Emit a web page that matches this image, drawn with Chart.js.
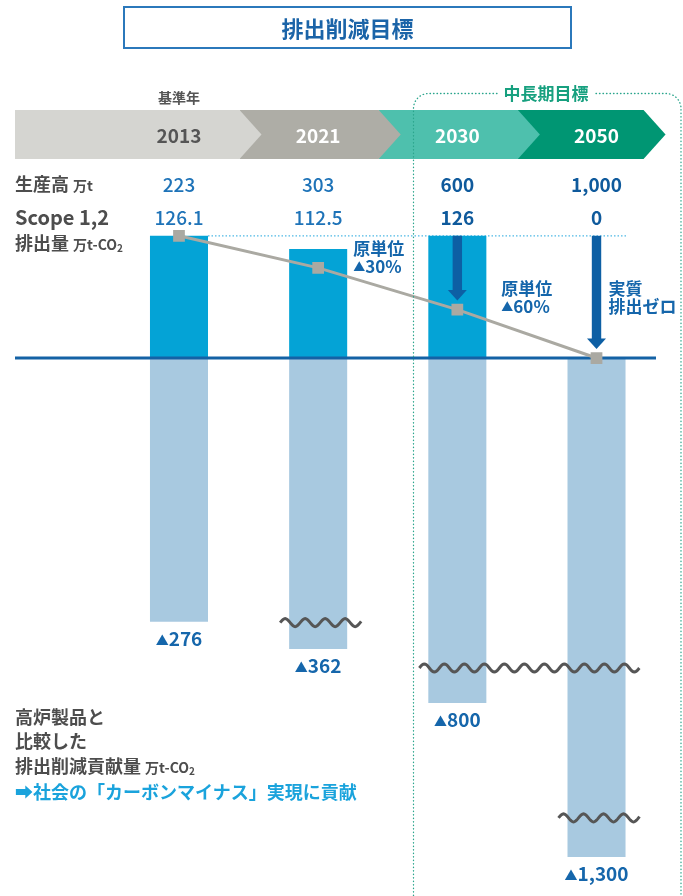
<!DOCTYPE html>
<html lang="ja">
<head>
<meta charset="utf-8">
<title>排出削減目標</title>
<script src="https://cdn.jsdelivr.net/npm/chart.js@4.4.1/dist/chart.umd.min.js"></script>
<style>
  body { margin: 0; background: #fff; font-family: "Noto Sans CJK JP", "Noto Sans", sans-serif; }
  #wrap { position: relative; width: 683px; height: 896px; overflow: hidden; }
  #chart { position: absolute; left: 0; top: 0; }
  .lbl { position: absolute; white-space: nowrap; color: #4d4d4d; font-weight: 700; line-height: 1.2; transform: translateY(-50%); }
  .unit { font-size: 14px; }
  .unit sub { font-size: 10px; vertical-align: -2px; }
  #title { position: absolute; left: 123px; top: 6px; width: 449px; height: 43px; box-sizing: border-box;
           border: 2px solid #2b78bb; color: #1b64a8; font-size: 22px; font-weight: 700;
           text-align: center; line-height: 39px; }
</style>
</head>
<body>
<div id="wrap">
  <canvas id="chart" width="683" height="896"></canvas>
  <div id="title">排出削減目標</div>
  <div class="lbl" style="left:15px;top:184px;font-size:18px">生産高 <span class="unit">万t</span></div>
  <div class="lbl" style="left:15px;top:217px;font-size:20px">Scope 1,2</div>
  <div class="lbl" style="left:15px;top:243px;font-size:18px">排出量 <span class="unit">万t-CO<sub>2</sub></span></div>
  <div class="lbl" style="left:15px;top:717px;font-size:18px">高炉製品と</div>
  <div class="lbl" style="left:15px;top:741px;font-size:18px">比較した</div>
  <div class="lbl" style="left:15px;top:766px;font-size:18px">排出削減貢献量 <span class="unit">万t-CO<sub>2</sub></span></div>
  <div class="lbl" style="left:15px;top:792px;font-size:18px;color:#1aa3dc">➡社会の「カーボンマイナス」実現に貢献</div>
</div>
<script>
// データ
const years = ['2013', '2021', '2030', '2050'];
const productionLabels = ['223', '303', '600', '1,000'];
const emissions = [126.1, 112.5, 126, 0];
const emissionLabels = ['126.1', '112.5', '126', '0'];
const contribution = [-276, -362, -800, -1300];
const contributionLabels = ['276', '362', '800', '1,300'];
const intensity = [126.1, 93, 50, 0];
const notes = [[], ['原単位', '▲30%'], ['原単位', '▲60%'], ['実質', '排出ゼロ']];

const JP = '"Noto Sans CJK JP", "Noto Sans", sans-serif';

// 縦軸は途中を省略した区分線形スケール (値 -> 0..1)
const yKnots = [[-1400, 0], [-1300, 0.0338], [-800, 0.2603], [-400, 0.3235], [-280, 0.3743], [0, 0.7676], [163, 1]];

class BrokenScale extends Chart.LinearScale {
  getPixelForValue(value) {
    if (value === null || isNaN(value)) return NaN;
    let k = yKnots;
    let i = 1;
    while (i < k.length - 1 && value > k[i][0]) i++;
    const a = k[i - 1], b = k[i];
    const dec = a[1] + (value - a[0]) / (b[0] - a[0]) * (b[1] - a[1]);
    return this.getPixelForDecimal(dec);
  }
  getValueForPixel(pixel) {
    const dec = this.getDecimalForPixel(pixel);
    let k = yKnots;
    let i = 1;
    while (i < k.length - 1 && dec > k[i][1]) i++;
    const a = k[i - 1], b = k[i];
    return a[0] + (dec - a[1]) / (b[1] - a[1]) * (b[0] - a[0]);
  }
}
BrokenScale.id = 'broken';
BrokenScale.defaults = Chart.LinearScale.defaults;
Chart.register(BrokenScale);

function wave(ctx, xa, xb, yc) {
  ctx.beginPath();
  for (let px = xa; px <= xb; px++) {
    const yy = yc - 4 * Math.sin((px - xa) / 20 * 2 * Math.PI);
    if (px === xa) ctx.moveTo(px, yy); else ctx.lineTo(px, yy);
  }
  ctx.stroke();
}

// ▲付きの文字
function triText(ctx, txt, x, y, size, align) {
  ctx.font = '700 ' + Math.round(size * 0.68) + 'px ' + JP;
  const wt = ctx.measureText('▲').width;
  ctx.font = '700 ' + size + 'px ' + JP;
  const wn = ctx.measureText(txt).width;
  let x0 = align === 'center' ? x - (wt + wn) / 2 : x;
  ctx.textAlign = 'left';
  ctx.font = '700 ' + Math.round(size * 0.68) + 'px ' + JP;
  ctx.fillText('▲', x0, y + 1);
  ctx.font = '700 ' + size + 'px ' + JP;
  ctx.fillText(txt, x0 + wt, y);
}

const deco = {
  id: 'deco',
  beforeDatasetsDraw(chart) {
    const ctx = chart.ctx, xs = chart.scales.x, ys = chart.scales.y;
    const step = xs.getPixelForValue(1) - xs.getPixelForValue(0);
    const bandColors = ['#d5d5d1', '#aeada6', '#4ec0ad', '#009673'];
    const top = 110, bot = 159, mid = (top + bot) / 2, tip = 22;
    ctx.save();
    for (let i = years.length - 1; i >= 0; i--) {
      const x0 = i === 0 ? 15 : xs.getPixelForValue(i - 1) + step * 0.435;
      const x1 = xs.getPixelForValue(i) + step * (i === years.length - 1 ? 0.338 : 0.435);
      ctx.fillStyle = bandColors[i];
      ctx.beginPath();
      ctx.moveTo(x0, top); ctx.lineTo(x1, top); ctx.lineTo(x1 + tip, mid);
      ctx.lineTo(x1, bot); ctx.lineTo(x0, bot); ctx.closePath();
      ctx.fill();
    }
    ctx.textAlign = 'center';
    ctx.textBaseline = 'middle';
    years.forEach((yr, i) => {
      const c = xs.getPixelForValue(i);
      ctx.font = '700 19px ' + JP;
      ctx.fillStyle = i === 0 ? '#555555' : '#ffffff';
      ctx.fillText(yr, c, mid + 1);
      const bold = i >= 2;
      ctx.font = (bold ? '700 ' : '500 ') + '19px ' + JP;
      ctx.fillStyle = bold ? '#0f5a9c' : '#1e73b8';
      ctx.fillText(productionLabels[i], c, 185);
      ctx.fillText(emissionLabels[i], c, 218);
    });
    // 基準値の点線
    const half = chart.getDatasetMeta(1).data[0].width / 2;
    const yb = ys.getPixelForValue(emissions[0]);
    ctx.strokeStyle = '#4db8e5';
    ctx.lineWidth = 1.3;
    ctx.setLineDash([1.5, 2]);
    ctx.beginPath();
    ctx.moveTo(xs.getPixelForValue(0) + half, yb);
    ctx.lineTo(628, yb);
    ctx.stroke();
    ctx.restore();
  },
  beforeDatasetDraw(chart, args) {
    if (args.index !== 0) return;
    const ctx = chart.ctx, xs = chart.scales.x, ys = chart.scales.y;
    const y0 = ys.getPixelForValue(0);
    ctx.save();
    ctx.strokeStyle = '#1462a5';
    ctx.lineWidth = 3;
    ctx.beginPath();
    ctx.moveTo(15, y0); ctx.lineTo(656, y0);
    ctx.stroke();
    // 矢印
    ctx.fillStyle = '#0d5fa4';
    [2, 3].forEach(i => {
      const c = xs.getPixelForValue(i);
      const ya = ys.getPixelForValue(emissions[0]);
      const yt = ys.getPixelForValue(intensity[i]) - 9;
      ctx.fillRect(c - 4.7, ya, 9.4, yt - 10 - ya);
      ctx.beginPath();
      ctx.moveTo(c - 9.5, yt - 10.5); ctx.lineTo(c + 9.5, yt - 10.5); ctx.lineTo(c, yt);
      ctx.closePath();
      ctx.fill();
    });
    ctx.restore();
  },
  afterDraw(chart) {
    const ctx = chart.ctx, xs = chart.scales.x, ys = chart.scales.y;
    ctx.save();
    // 省略の波線
    ctx.strokeStyle = '#565656';
    ctx.lineWidth = 3;
    [[1, 1, -277], [2, 3, -474], [3, 3, -1173]].forEach(b => {
      wave(ctx, xs.getPixelForValue(b[0]) - 38, xs.getPixelForValue(b[1]) + 43, ys.getPixelForValue(b[2]));
    });
    ctx.textBaseline = 'middle';
    ctx.fillStyle = '#1566ab';
    contribution.forEach((v, i) => {
      triText(ctx, contributionLabels[i], xs.getPixelForValue(i), ys.getPixelForValue(v) + 17, 19, 'center');
    });
    // 注記
    const notePos = [null, [35, ys.getPixelForValue(intensity[1]) - 19], [44, 288.5], [12, 288.5]];
    notes.forEach((n, i) => {
      if (!n.length) return;
      const x = xs.getPixelForValue(i) + notePos[i][0];
      const y = notePos[i][1];
      ctx.textAlign = 'left';
      ctx.font = '700 17px ' + JP;
      ctx.fillText(n[0], x, y);
      if (n[1].startsWith('▲')) triText(ctx, n[1].slice(1), x, y + 18, 17, 'left');
      else ctx.fillText(n[1], x, y + 18);
    });
    ctx.textAlign = 'center';
    ctx.font = '700 14px ' + JP;
    ctx.fillStyle = '#555555';
    ctx.fillText('基準年', xs.getPixelForValue(0), 98);
    // 中長期目標の枠
    const L = 413.5, R = 681, T = 93.5, r = 15, B = 905;
    ctx.strokeStyle = '#2aa58c';
    ctx.lineWidth = 1.3;
    ctx.lineCap = 'round';
    ctx.setLineDash([0.5, 3]);
    ctx.beginPath();
    ctx.moveTo(497, T); ctx.lineTo(L + r, T); ctx.arcTo(L, T, L, T + r, r); ctx.lineTo(L, B);
    ctx.moveTo(596, T); ctx.lineTo(R - r, T); ctx.arcTo(R, T, R, T + r, r); ctx.lineTo(R, B);
    ctx.stroke();
    ctx.setLineDash([]);
    ctx.font = '700 17px ' + JP;
    ctx.fillStyle = '#17a07f';
    ctx.fillText('中長期目標', 546, T);
    ctx.restore();
  }
};

new Chart(document.getElementById('chart'), {
  type: 'bar',
  data: {
    labels: years,
    datasets: [
      {
        type: 'line',
        label: '原単位',
        data: intensity,
        borderColor: '#aaa9a2',
        borderWidth: 3,
        pointStyle: 'rect',
        pointRadius: 8.3,
        pointBorderWidth: 0,
        pointBackgroundColor: '#aaa9a2',
        order: 0,
      },
      {
        label: 'Scope 1,2 排出量',
        data: emissions,
        backgroundColor: '#04a3d6',
        order: 1,
      },
      {
        label: '排出削減貢献量',
        data: contribution,
        backgroundColor: '#a8c9e0',
        order: 1,
      },
    ],
  },
  options: {
    responsive: false,
    animation: false,
    events: [],
    layout: { padding: { left: 109.4, right: 16.9, top: 200, bottom: 16 } },
    datasets: { bar: { barPercentage: 0.417, categoryPercentage: 1 } },
    scales: {
      x: { display: false, stacked: true },
      y: { type: 'broken', display: false, min: -1400, max: 163 },
    },
    plugins: { legend: { display: false }, tooltip: { enabled: false } },
  },
  plugins: [deco],
});
</script>
</body>
</html>
